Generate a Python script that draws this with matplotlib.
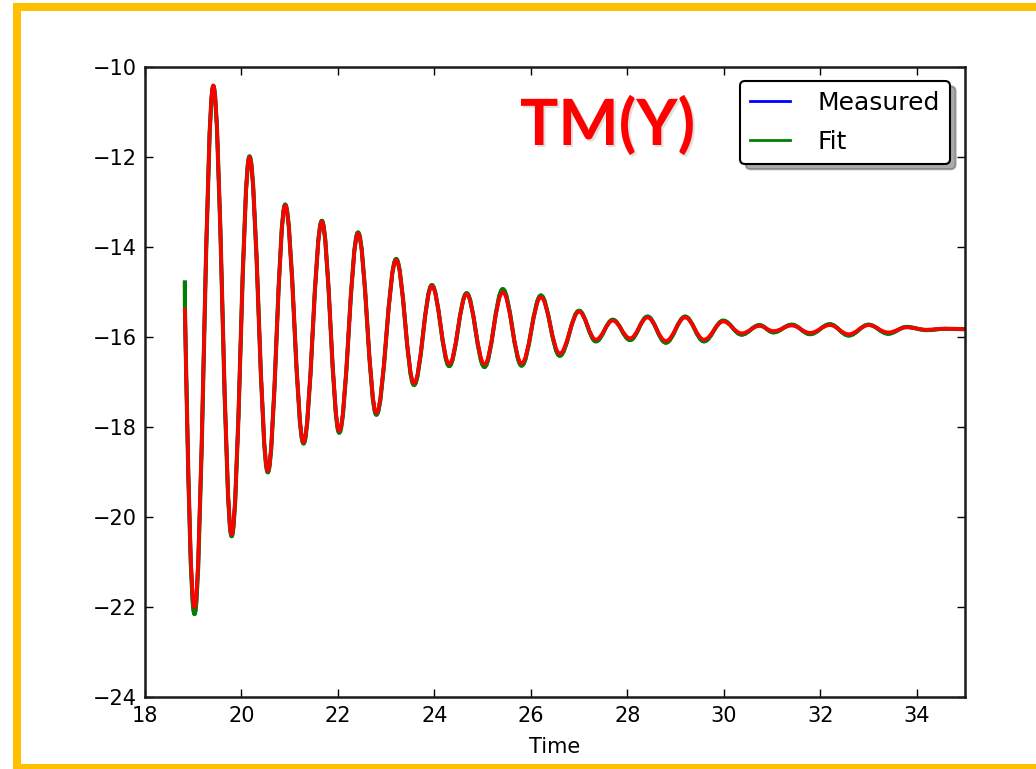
import matplotlib
matplotlib.use("Agg")
import matplotlib.pyplot as plt
from matplotlib.path import Path
from matplotlib.patches import PathPatch, Rectangle
from matplotlib.lines import Line2D
import matplotlib.patheffects as pe

# ---- data: turning points of the decaying oscillation ----
red_t = [18.83, 19.03, 19.42, 19.80, 20.17, 20.55, 20.91, 21.29, 21.67, 22.03,
         22.42, 22.80, 23.21, 23.58, 23.95, 24.31, 24.67, 25.04, 25.42, 25.81,
         26.21, 26.60, 27.00, 27.35, 27.70, 28.06, 28.42, 28.80, 29.20, 29.59,
         29.99, 30.37, 30.74, 31.03, 31.41, 31.79, 32.20, 32.59, 33.00, 33.41,
         33.79, 34.20, 34.60, 35.00]
red_v = [-15.34, -22.00, -10.40, -20.38, -12.00, -18.97, -13.07, -18.33, -13.43, -18.08,
         -13.69, -17.68, -14.28, -17.02, -14.86, -16.59, -15.04, -16.60, -15.00, -16.58,
         -15.11, -16.36, -15.43, -16.05, -15.63, -16.02, -15.56, -16.08, -15.56, -16.05,
         -15.65, -15.91, -15.75, -15.86, -15.74, -15.90, -15.73, -15.93, -15.73, -15.89,
         -15.78, -15.83, -15.81, -15.82]

fit_t = [18.83, 18.832, 19.03, 19.42, 19.80, 20.17, 20.55, 20.91, 21.29, 21.67, 22.03,
         22.42, 22.80, 23.21, 23.58, 23.95, 24.31, 24.67, 25.04, 25.42, 25.81,
         26.21, 26.60, 27.00, 27.35, 27.70, 28.06, 28.42, 28.80, 29.20, 29.59,
         29.99, 30.37, 30.74, 31.03, 31.41, 31.79, 32.20, 32.59, 33.00, 33.41,
         33.79, 34.20, 34.60, 35.00]
fit_v = [-14.74, -15.34, -22.15, -10.42, -20.42, -11.98, -19.00, -13.05, -18.36, -13.41, -18.12,
         -13.67, -17.72, -14.26, -17.06, -14.84, -16.64, -15.02, -16.66, -14.93, -16.63,
         -15.07, -16.41, -15.41, -16.09, -15.61, -16.06, -15.54, -16.12, -15.54, -16.09,
         -15.63, -15.94, -15.73, -15.89, -15.72, -15.93, -15.71, -15.96, -15.72, -15.92,
         -15.77, -15.84, -15.81, -15.82]

meas_t = fit_t
meas_v = fit_v

x_ticks = [18, 20, 22, 24, 26, 28, 30, 32, 34]
y_ticks = [-24, -22, -20, -18, -16, -14, -12, -10]
legend_labels = ["Measured", "Fit"]
title_text = "TM(Y)"
x_label = "Time"


def smooth_path(ts, vs, n_lead_lines=0):
    """Smooth curve through turning points (flat tangents at each turning point)."""
    verts = [(ts[0], vs[0])]
    codes = [Path.MOVETO]
    for i in range(1, len(ts)):
        t0, v0, t1, v1 = ts[i - 1], vs[i - 1], ts[i], vs[i]
        dt = t1 - t0
        if i <= n_lead_lines:
            verts.append((t1, v1))
            codes.append(Path.LINETO)
            continue
        if i == n_lead_lines + 1:
            c1 = (t0 + 0.33 * dt, v0 + 0.55 * (v1 - v0))
        else:
            c1 = (t0 + 0.364 * dt, v0)
        c2 = (t1 - 0.364 * dt, v1)
        verts += [c1, c2, (t1, v1)]
        codes += [Path.CURVE4] * 3
    return Path(verts, codes)


W, H = 1036, 769
fig = plt.figure(figsize=(W / 100, H / 100), dpi=100)
fig.patch.set_facecolor("white")

ax = fig.add_axes([144.8 / W, 1 - 697.3 / H, (965 - 144.8) / W, (697.3 - 67.3) / H])

for ts, vs, col, lw, lead in [(meas_t, meas_v, "#0000ff", 2.6, 1),
                              (fit_t, fit_v, "#008000", 3.0, 1),
                              (red_t, red_v, "#ff0000", 2.6, 0)]:
    patch = PathPatch(smooth_path(ts, vs, lead), facecolor="none", edgecolor=col,
                      lw=lw, capstyle="butt", joinstyle="round")
    ax.add_patch(patch)

ax.set_xlim(18, 35)
ax.set_ylim(-24, -10)
ax.set_xticks(x_ticks)
ax.set_yticks(y_ticks)
ax.tick_params(direction="in", top=True, right=True, length=6, width=1.0,
               labelsize=15, pad=6, colors="black")
for s in ax.spines.values():
    s.set_linewidth(1.8)
    s.set_color("#1a1a1a")
ax.set_xlabel(x_label, fontsize=15, labelpad=8)

handles = [Line2D([], [], color="#0000ff", lw=2),
           Line2D([], [], color="#008000", lw=2)]
leg = ax.legend(handles, legend_labels, loc="upper right",
                bbox_to_anchor=(950 / W, 1 - 80.7 / H), bbox_transform=fig.transFigure,
                borderaxespad=0, fontsize=18, frameon=True, fancybox=True,
                shadow={"ox": 4, "oy": -4, "color": "0.35"},
                handlelength=1.6, handletextpad=1.1, labelspacing=0.6, borderpad=0.4)
leg.get_frame().set_edgecolor("black")
leg.get_frame().set_linewidth(1.5)
leg.get_frame().set_alpha(1)

fig.text(520 / W, 1 - 145 / H, title_text, color="#ff0000", fontsize=46,
         fontweight="bold", family=["Lato", "DejaVu Sans"], ha="left", va="baseline",
         path_effects=[pe.SimplePatchShadow(offset=(1.5, -1.5), shadow_rgbFace="0.45", alpha=0.22),
                       pe.Normal()])

# orange slide border
orange = "#FFC000"
fig.add_artist(Rectangle((13 / W, 1 - 11 / H), (W - 13) / W, 8 / H,
                         transform=fig.transFigure, color=orange, lw=0))
fig.add_artist(Rectangle((13 / W, 0), 8 / W, 1 - 3 / H,
                         transform=fig.transFigure, color=orange, lw=0))
fig.add_artist(Rectangle((13 / W, 0), (W - 13) / W, 5 / H,
                         transform=fig.transFigure, color=orange, lw=0))

fig.savefig("out.png", dpi=100)
